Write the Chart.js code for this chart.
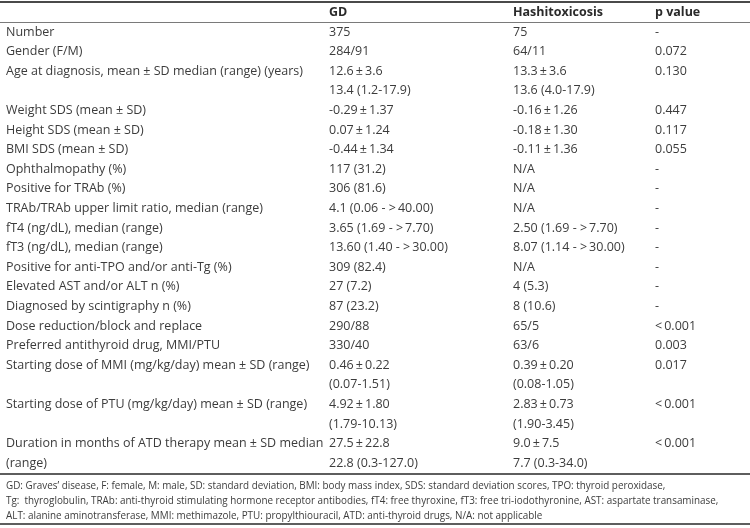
<!DOCTYPE html>
<html lang="en">
<head>
  <meta charset="UTF-8">
  <title>GD vs Hashitoxicosis</title>
  <script src="https://cdn.jsdelivr.net/npm/chart.js"></script>
  <style>
    body { margin: 0; background: #fff; }
    #wrap { width: 750px; height: 528px; position: relative; }
  </style>
</head>
<body>
<div id="wrap"><canvas id="tableChart"></canvas></div>
<script>
// column headers
const headers = ['', 'GD', 'Hashitoxicosis', 'p value'];

// one entry per printed line (second lines of a cell have '' in the first column)
const rowLabels = [
  'Number',
  'Gender (F/M)',
  'Age at diagnosis, mean \u00b1 SD median (range) (years)',
  '',
  'Weight SDS (mean \u00b1 SD)',
  'Height SDS (mean \u00b1 SD)',
  'BMI SDS (mean \u00b1 SD)',
  'Ophthalmopathy (%)',
  'Positive for TRAb (%)',
  'TRAb/TRAb upper limit ratio, median (range)',
  'fT4 (ng/dL), median (range)',
  'fT3 (ng/dL), median (range)',
  'Positive for anti-TPO and/or anti-Tg (%)',
  'Elevated AST and/or ALT n (%)',
  'Diagnosed by scintigraphy n (%)',
  'Dose reduction/block and replace',
  'Preferred antithyroid drug, MMI/PTU',
  'Starting dose of MMI (mg/kg/day) mean \u00b1 SD (range)',
  '',
  'Starting dose of PTU (mg/kg/day) mean \u00b1 SD (range)',
  '',
  'Duration in months of ATD therapy mean \u00b1 SD median',
  '(range)'
];

const gdValues = [
  '375',
  '284/91',
  '12.6\u2009\u00b1\u20093.6',
  '13.4 (1.2-17.9)',
  '-0.29\u2009\u00b1\u20091.37',
  '0.07\u2009\u00b1\u20091.24',
  '-0.44\u2009\u00b1\u20091.34',
  '117 (31.2)',
  '306 (81.6)',
  '4.1 (0.06 - >\u200940.00)',
  '3.65 (1.69 - >\u20097.70)',
  '13.60 (1.40 - >\u200930.00)',
  '309 (82.4)',
  '27 (7.2)',
  '87 (23.2)',
  '290/88',
  '330/40',
  '0.46\u2009\u00b1\u20090.22',
  '(0.07-1.51)',
  '4.92\u2009\u00b1\u20091.80',
  '(1.79-10.13)',
  '27.5\u2009\u00b1\u200922.8',
  '22.8 (0.3-127.0)'
];

const hashiValues = [
  '75',
  '64/11',
  '13.3\u2009\u00b1\u20093.6',
  '13.6 (4.0-17.9)',
  '-0.16\u2009\u00b1\u20091.26',
  '-0.18\u2009\u00b1\u20091.30',
  '-0.11\u2009\u00b1\u20091.36',
  'N/A',
  'N/A',
  'N/A',
  '2.50 (1.69 - >\u20097.70)',
  '8.07 (1.14 - >\u200930.00)',
  'N/A',
  '4 (5.3)',
  '8 (10.6)',
  '65/5',
  '63/6',
  '0.39\u2009\u00b1\u20090.20',
  '(0.08-1.05)',
  '2.83\u2009\u00b1\u20090.73',
  '(1.90-3.45)',
  '9.0\u2009\u00b1\u20097.5',
  '7.7 (0.3-34.0)'
];

const pValues = [
  '-', '0.072', '0.130', '', '0.447', '0.117', '0.055', '-', '-', '-', '-', '-',
  '-', '-', '-', '<\u20090.001', '0.003', '0.017', '', '<\u20090.001', '', '<\u20090.001', ''
];

const footnotes = [
  'GD: Graves\u2019 disease, F: female, M: male, SD: standard deviation, BMI: body mass index, SDS: standard deviation scores, TPO: thyroid peroxidase,',
  'Tg:  thyroglobulin, TRAb: anti-thyroid stimulating hormone receptor antibodies, fT4: free thyroxine, fT3: free tri-iodothyronine, AST: aspartate transaminase,',
  'ALT: alanine aminotransferase, MMI: methimazole, PTU: propylthiouracil, ATD: anti-thyroid drugs, N/A: not applicable'
];

// layout in scale units: x = column position, y = printed line index
const colX = [6, 329, 513, 655];
const headerY = -1;
const footY = [23.16, 23.93, 24.7];
const rules = [
  { y: -1.55, w: 2, c: '#4a4a4a' },
  { y: -0.5, w: 1.2, c: '#7a7a7a' },
  { y: 22.55, w: 2, c: '#5e5e5e' },
  { y: 25.12, w: 2, c: '#5e5e5e' }
];

const FONT = '"Open Sans", "Noto Sans", sans-serif';

// plugin: draws the table cells through the chart's x / y scales
const tablePlugin = {
  id: 'tablePlugin',
  afterDraw(chart) {
    const ctx = chart.ctx;
    const x = chart.scales.x, y = chart.scales.y;
    ctx.save();

    rules.forEach(r => {
      const py = Math.round(y.getPixelForValue(r.y)) + (r.w % 2 ? 0.5 : 0);
      ctx.strokeStyle = r.c;
      ctx.lineWidth = r.w;
      ctx.beginPath();
      ctx.moveTo(x.getPixelForValue(0), py);
      ctx.lineTo(x.getPixelForValue(750), py);
      ctx.stroke();
    });

    ctx.textBaseline = 'middle';
    ctx.textAlign = 'left';

    ctx.fillStyle = '#2a2a2a';
    ctx.font = 'bold 12.5px ' + FONT;
    headers.forEach((h, c) => {
      ctx.fillText(h, x.getPixelForValue(colX[c]), y.getPixelForValue(headerY));
    });

    ctx.fillStyle = '#3c3c3c';
    ctx.font = '12.5px ' + FONT;
    const cols = [rowLabels, gdValues, hashiValues, pValues];
    cols.forEach((col, c) => {
      col.forEach((txt, i) => {
        if (txt) ctx.fillText(txt, x.getPixelForValue(colX[c]), y.getPixelForValue(i));
      });
    });

    ctx.font = '9.9px ' + FONT;
    footnotes.forEach((txt, i) => {
      ctx.fillText(txt, x.getPixelForValue(colX[0]), y.getPixelForValue(footY[i]));
    });

    ctx.restore();
  }
};

new Chart(document.getElementById('tableChart'), {
  type: 'scatter',
  data: { datasets: [] },
  options: {
    responsive: true,
    maintainAspectRatio: false,
    animation: false,
    layout: { padding: 0 },
    plugins: { legend: { display: false }, tooltip: { enabled: false } },
    scales: {
      x: { type: 'linear', display: false, min: 0, max: 750 },
      y: { type: 'linear', display: false, reverse: true, min: -32 / 19.6, max: (528 - 32) / 19.6 }
    }
  },
  plugins: [tablePlugin]
});
</script>
</body>
</html>
